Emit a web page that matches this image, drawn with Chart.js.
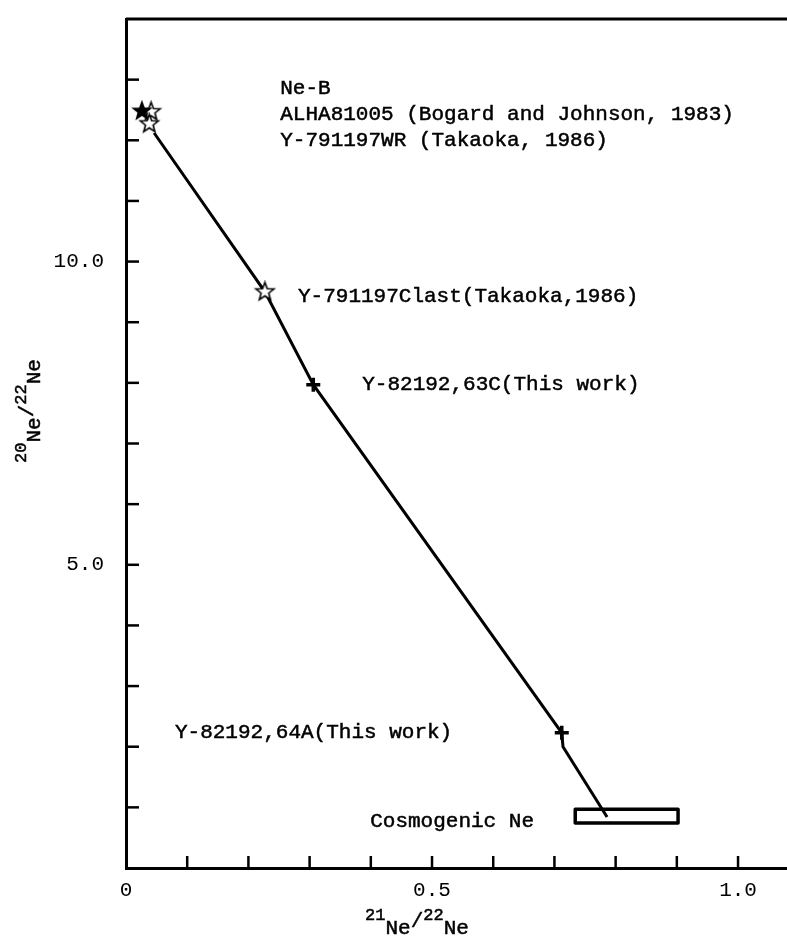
<!DOCTYPE html>
<html>
<head>
<meta charset="utf-8">
<script src="https://cdn.jsdelivr.net/npm/chart.js@4/dist/chart.umd.min.js"></script>
<style>
  html, body { margin: 0; padding: 0; background: #fff; }
  canvas { display: block; }
</style>
</head>
<body>
<canvas id="neonChart" width="787" height="938"></canvas>
<script>
// Ne three-isotope plot: 20Ne/22Ne vs 21Ne/22Ne
const neBX = [0.026];
const neBY = [12.48];

// ALHA81005, Y-791197WR, Y-791197Clast
const openStarX = [0.041, 0.038, 0.227];
const openStarY = [12.47, 12.27, 9.50];

// Y-82192,63C and 64A (this work)
const thisWorkX = [0.306, 0.712];
const thisWorkY = [7.97, 2.23];

// mixing line drawn through the points
const mixLineX = [0.046, 0.227, 0.306, 0.712, 0.714, 0.786];
const mixLineY = [12.12, 9.50, 7.97, 2.23, 2.00, 0.84];

// cosmogenic Ne box (x range, y range)
const cosmoBoxX = [0.734, 0.902];
const cosmoBoxY = [0.74, 0.97];

const xMajorTicks = [0, 0.5, 1.0];
const yMajorTicks = [5, 10];
const xMinorTicks = [0.1, 0.2, 0.3, 0.4, 0.5, 0.6, 0.7, 0.8, 0.9, 1.0];
const yMinorTicks = [1, 2, 3, 4, 5, 6, 7, 8, 9, 10, 11, 12, 13];

const noteTexts = [
    'Ne-B',
    'ALHA81005 (Bogard and Johnson, 1983)',
    'Y-791197WR (Takaoka, 1986)',
    'Y-791197Clast(Takaoka,1986)',
    'Y-82192,63C(This work)',
    'Y-82192,64A(This work)',
    'Cosmogenic Ne'
];
const noteX = [0.252, 0.252, 0.252, 0.281, 0.386, 0.080, 0.399];
const noteY = [12.86, 12.42, 11.99, 9.42, 7.97, 2.23, 0.76];

const MONO = '"Liberation Mono", "DejaVu Sans Mono", monospace';

function toPoints(xs, ys) {
    return xs.map((x, i) => ({ x: x, y: ys[i] }));
}

// five-pointed star as a point style image
function makeStar(r, filled) {
    const c = document.createElement('canvas');
    const s = Math.ceil(r * 2 + 4);
    c.width = s;
    c.height = s;
    const g = c.getContext('2d');
    g.beginPath();
    for (let i = 0; i < 10; i++) {
        const rad = i % 2 === 0 ? r : r * 0.42;
        const a = -Math.PI / 2 + i * Math.PI / 5;
        const px = s / 2 + rad * Math.cos(a);
        const py = s / 2 + rad * Math.sin(a);
        if (i === 0) g.moveTo(px, py); else g.lineTo(px, py);
    }
    g.closePath();
    g.fillStyle = filled ? '#000' : '#fff';
    g.fill();
    g.lineWidth = 1.6;
    g.strokeStyle = '#000';
    g.stroke();
    return c;
}

function boxPoints() {
    return [
        { x: cosmoBoxX[0], y: cosmoBoxY[0] },
        { x: cosmoBoxX[1], y: cosmoBoxY[0] },
        { x: cosmoBoxX[1], y: cosmoBoxY[1] },
        { x: cosmoBoxX[0], y: cosmoBoxY[1] },
        { x: cosmoBoxX[0], y: cosmoBoxY[0] }
    ];
}

// typewriter look: fill plus a thin stroke
function inkText(ctx, t, x, y) {
    ctx.fillText(t, x, y);
    ctx.strokeText(t, x, y);
}

// draws "21Ne/22Ne" style label centred at (0,0) of the current transform
function drawRatio(ctx, top1, top2) {
    const big = '21px ' + MONO;
    const small = '17px ' + MONO;
    const parts = [
        { t: top1, f: small, dy: -6 },
        { t: 'Ne', f: big, dy: 7 },
        { t: '/', f: big, dy: 0 },
        { t: top2, f: small, dy: -6 },
        { t: 'Ne', f: big, dy: 7 }
    ];
    let total = 0;
    parts.forEach(p => { ctx.font = p.f; p.w = ctx.measureText(p.t).width; total += p.w; });
    let x = -total / 2;
    ctx.textAlign = 'left';
    ctx.textBaseline = 'middle';
    parts.forEach(p => {
        ctx.font = p.f;
        inkText(ctx, p.t, x, p.dy);
        x += p.w;
    });
}

const decorPlugin = {
    id: 'decor',
    afterDraw(chart) {
        const ctx = chart.ctx;
        const area = chart.chartArea;
        const xs = chart.scales.x;
        const ys = chart.scales.y;
        ctx.save();
        ctx.strokeStyle = '#000';
        ctx.fillStyle = '#000';

        // top frame line
        ctx.lineWidth = 3;
        ctx.beginPath();
        ctx.moveTo(area.left, area.top);
        ctx.lineTo(chart.width, area.top);
        ctx.stroke();

        // inward ticks
        ctx.lineWidth = 2.5;
        yMinorTicks.forEach(v => {
            const py = ys.getPixelForValue(v);
            ctx.beginPath();
            ctx.moveTo(area.left, py);
            ctx.lineTo(area.left + 13, py);
            ctx.stroke();
        });
        xMinorTicks.forEach(v => {
            const px = xs.getPixelForValue(v);
            ctx.beginPath();
            ctx.moveTo(px, area.bottom);
            ctx.lineTo(px, area.bottom - 12);
            ctx.stroke();
        });

        // annotations
        ctx.font = '21px ' + MONO;
        ctx.lineWidth = 0.5;
        ctx.textAlign = 'left';
        ctx.textBaseline = 'middle';
        noteTexts.forEach((t, i) => {
            inkText(ctx, t, xs.getPixelForValue(noteX[i]), ys.getPixelForValue(noteY[i]));
        });

        // axis titles
        ctx.save();
        ctx.translate(417, 921);
        drawRatio(ctx, '21', '22');
        ctx.restore();

        ctx.save();
        ctx.translate(27, 411);
        ctx.rotate(-Math.PI / 2);
        drawRatio(ctx, '20', '22');
        ctx.restore();

        ctx.restore();
    }
};

function isMajor(v, list) {
    return list.some(m => Math.abs(m - v) < 1e-6);
}

new Chart(document.getElementById('neonChart'), {
    type: 'scatter',
    data: {
        datasets: [
            {
                label: 'Ne-B',
                data: toPoints(neBX, neBY),
                pointStyle: makeStar(9, true),
                pointRadius: 9,
                order: 0
            },
            {
                label: 'Takaoka / Bogard',
                data: toPoints(openStarX, openStarY),
                pointStyle: makeStar(9.5, false),
                pointRadius: 9,
                order: 1
            },
            {
                label: 'This work',
                data: toPoints(thisWorkX, thisWorkY),
                pointStyle: 'cross',
                pointRadius: 7,
                borderWidth: 3.5,
                borderColor: '#000',
                order: 2
            },
            {
                label: 'Mixing line',
                data: toPoints(mixLineX, mixLineY),
                showLine: true,
                borderColor: '#000',
                borderWidth: 3,
                pointRadius: 0,
                tension: 0,
                order: 3
            },
            {
                label: 'Cosmogenic Ne',
                data: boxPoints(),
                showLine: true,
                borderColor: '#000',
                borderWidth: 3.5,
                borderJoinStyle: 'round',
                pointRadius: 0,
                tension: 0,
                order: 4
            }
        ]
    },
    options: {
        responsive: false,
        animation: false,
        layout: { autoPadding: false, padding: { top: 19, right: 0, left: 0, bottom: 0 } },
        plugins: {
            legend: { display: false },
            tooltip: { enabled: false }
        },
        scales: {
            x: {
                type: 'linear',
                min: 0,
                max: 1.08,
                grid: { display: true, drawOnChartArea: false, drawTicks: false },
                border: { display: true, width: 3, color: '#000' },
                ticks: {
                    stepSize: 0.1,
                    includeBounds: false,
                    autoSkip: false,
                    maxRotation: 0,
                    padding: 10,
                    color: '#000',
                    font: { family: MONO, size: 21 },
                    callback: v => isMajor(v, xMajorTicks) ? (v === 0 ? '0' : v.toFixed(1)) : ''
                },
                afterFit: s => {
                    s.height = 70;
                    s.paddingLeft = 0;
                    s.paddingRight = 0;
                }
            },
            y: {
                type: 'linear',
                min: 0,
                max: 14,
                grid: { display: true, drawOnChartArea: false, drawTicks: false },
                border: { display: true, width: 3, color: '#000' },
                ticks: {
                    stepSize: 1,
                    autoSkip: false,
                    padding: 22,
                    color: '#000',
                    font: { family: MONO, size: 21 },
                    callback: v => isMajor(v, yMajorTicks) ? v.toFixed(1) : ''
                },
                afterFit: s => {
                    s.width = 126;
                    s.paddingTop = 0;
                    s.paddingBottom = 0;
                }
            }
        }
    },
    plugins: [decorPlugin]
});
</script>
</body>
</html>
